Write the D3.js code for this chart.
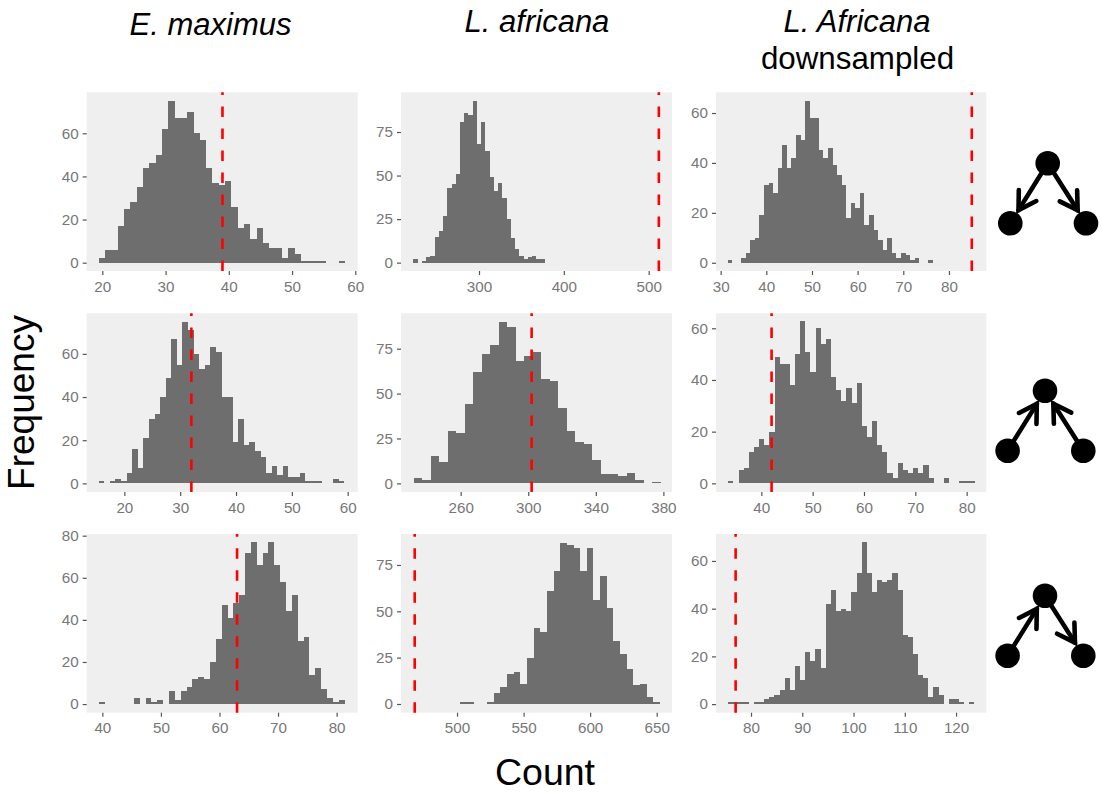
<!DOCTYPE html>
<html>
<head>
<meta charset="utf-8">
<script src="https://cdn.jsdelivr.net/npm/d3@7/dist/d3.min.js"></script>
<style>
html,body{margin:0;padding:0;background:#fff;}
svg{display:block;}
text{font-family:"Liberation Sans",Arial,sans-serif;}
</style>
</head>
<body>
<svg id="chart" width="1102" height="792"></svg>
<script>
// ---- data ----
const countsEmaxDiverging = [2,6,6,17,25,28,35,44,46,50,62,75,67,67,70,60,57,44,37,36,38,26,16,18,11,16,9,7,7,2,7,4,1,1,1,1,0,0,1];
const countsLafrDiverging = [2,0,1,3,4,15,18,27,43,45,51,81,86,85,93,68,81,64,49,41,46,37,25,14,8,4,2,3,4,2,2];
const countsDownDiverging = [1,0,0,2,4,9,10,19,31,32,28,38,47,38,42,51,49,65,58,58,45,42,46,39,35,31,18,24,22,28,15,19,13,9,5,10,4,2,4,3,1,2,0,0,1];
const countsEmaxConverging = [1,0,1,2,1,5,16,7,21,30,32,40,49,67,55,75,71,60,53,55,63,61,40,40,19,30,18,19,15,12,5,8,4,8,3,3,5,1,1,1,0,0,2,1];
const countsLafrConverging = [3,2,15,12,29,28,44,62,72,77,90,87,68,71,73,58,57,42,29,23,22,13,5,5,4,6,2,0,1];
const countsDownConverging = [1,0,5,6,12,14,17,15,20,49,46,46,38,50,63,51,43,60,54,56,41,36,32,37,31,39,22,18,24,15,12,4,2,8,5,4,6,4,7,2,0,0,2,0,0,1,1,1];
const countsEmaxChain = [1,0,0,0,0,0,3,0,3,1,2,0,6,2,6,8,12,13,12,20,31,47,41,48,52,72,77,66,72,77,66,58,44,52,30,32,14,17,7,3,1,2];
const countsLafrChain = [1,1,0,0,1,6,9,16,17,11,25,41,39,61,72,87,86,84,72,84,56,69,52,34,27,19,10,11,4,1];
const countsDownChain = [1,1,1,1,0,1,1,2,3,4,6,11,6,16,10,22,18,23,15,42,48,39,40,39,47,55,68,55,47,52,51,52,55,48,29,28,21,12,11,3,7,4,0,2,2,1,0,1];

const columnTitles = ["E. maximus", "L. africana", "L. Africana"];
const columnSubtitle = "downsampled";
const xTitle = "Count";
const yTitle = "Frequency";

const binStarts = [19.42, 222.6, 31.5, 15.4, 232.17, 33.57, 39.37, 502.5, 75.58];
const binWidths = [1, 5, 1, 1, 5.04, 1, 1, 5, 1];
const observed = [39, 512, 85, 32, 302, 42, 63, 468.2, 77];

const xTicks = [
  [20,30,40,50,60],[300,400,500],[30,40,50,60,70,80],
  [20,30,40,50,60],[260,300,340,380],[40,50,60,70,80],
  [40,50,60,70,80],[500,550,600,650],[80,90,100,110,120]
];
const yTicks = [
  [0,20,40,60],[0,25,50,75],[0,20,40,60],
  [0,20,40,60],[0,25,50,75],[0,20,40,60],
  [0,20,40,60,80],[0,25,50,75],[0,20,40,60]
];
const xLimits = [[17.53,60.38],[208.05,527.5],[28.98,88.18],[13.25,61.8],[224.67,385.1],[31.17,83.83],[37.33,83.6],[457.9,661.5],[73.17,125.9]];
const yLimits = [[-3.85,79],[-4.8,97.8],[-3.3,68.3],[-4,78.8],[-4.8,94.7],[-3.35,65.8],[-4.1,80.8],[-4.7,91.7],[-3.6,71.3]];
const allCounts = [countsEmaxDiverging,countsLafrDiverging,countsDownDiverging,countsEmaxConverging,countsLafrConverging,countsDownConverging,countsEmaxChain,countsLafrChain,countsDownChain];

// motif edges per row: [from, to], nodes 0 = top, 1 = left, 2 = right
const motifEdges = [[[0,1],[0,2]],[[1,0],[2,0]],[[1,0],[0,2]]];

// ---- layout ----
const colBands = [[86.7,357.7],[401,672],[716,986.3]];
const rowBands = [[92.3,271],[313.3,492],[534,712.7]];
const motifOrigins = [[1047.7,163.3],[1045,390.7],[1045,595.7]];
const BAR = "#6e6e6e", PANEL = "#efefef", TICK = "#555555", LABEL = "#777777";

const svg = d3.select("#chart");

allCounts.forEach((counts, i) => {
  const col = i % 3, row = Math.floor(i / 3);
  const x = d3.scaleLinear().domain(xLimits[i]).range(colBands[col]);
  const y = d3.scaleLinear().domain(yLimits[i]).range([rowBands[row][1], rowBands[row][0]]);
  const g = svg.append("g");

  g.append("rect")
    .attr("x", colBands[col][0]).attr("y", rowBands[row][0])
    .attr("width", colBands[col][1]-colBands[col][0])
    .attr("height", rowBands[row][1]-rowBands[row][0])
    .attr("fill", PANEL);

  g.append("g").selectAll("rect")
    .data(counts.map((c, k) => ({c, x0: binStarts[i]+k*binWidths[i], x1: binStarts[i]+(k+1)*binWidths[i]})).filter(d => d.c > 0))
    .join("rect")
    .attr("x", d => x(d.x0))
    .attr("width", d => x(d.x1)-x(d.x0))
    .attr("y", d => y(d.c))
    .attr("height", d => y(0)-y(d.c))
    .attr("fill", BAR)
    .attr("shape-rendering", "crispEdges");

  g.append("line")
    .attr("x1", x(observed[i])).attr("x2", x(observed[i]))
    .attr("y1", rowBands[row][1]).attr("y2", rowBands[row][0])
    .attr("stroke", "#ff0000").attr("stroke-width", 2.6)
    .attr("stroke-dasharray", "10.5,11.5");

  const ax = g.append("g").attr("transform", `translate(0,${rowBands[row][1]})`)
    .call(d3.axisBottom(x).tickValues(xTicks[i]).tickSize(4).tickPadding(6).tickFormat(d3.format("d")));
  const ay = g.append("g").attr("transform", `translate(${colBands[col][0]},0)`)
    .call(d3.axisLeft(y).tickValues(yTicks[i]).tickSize(4).tickPadding(4).tickFormat(d3.format("d")));
  [ax, ay].forEach(a => {
    a.select(".domain").remove();
    a.selectAll(".tick line").attr("stroke", TICK).attr("stroke-width", 1.2);
    a.selectAll(".tick text").attr("fill", LABEL).style("font-size", "15.2px");
  });
});

// column titles
const titleY = [35, 32, 32];
columnTitles.forEach((t, c) => {
  svg.append("text").text(t)
    .attr("x", [210.5, 537, 857][c]).attr("y", titleY[c])
    .attr("text-anchor", "middle").attr("font-style", "italic")
    .attr("font-size", 31).attr("fill", "#000");
});
svg.append("text").text(columnSubtitle)
  .attr("x", 857.5).attr("y", 69).attr("text-anchor", "middle")
  .attr("font-size", 31.3).attr("fill", "#000");

svg.append("text").text(xTitle)
  .attr("x", 545).attr("y", 785).attr("text-anchor", "middle")
  .attr("font-size", 37.5).attr("fill", "#000");
svg.append("text").text(yTitle)
  .attr("transform", "translate(34,402.5) rotate(-90)").attr("text-anchor", "middle")
  .attr("font-size", 37).attr("fill", "#000");

// motifs
const nodeOffsets = [[0,0],[-37.4,60],[38.3,60]];
const R = 12.3, TIP = 15.5, ARM = 20, ANG = 31 * Math.PI / 180;
const link = d3.line();
motifEdges.forEach((edges, r) => {
  const [ox, oy] = motifOrigins[r];
  const pts = nodeOffsets.map(([dx, dy]) => [ox+dx, oy+dy]);
  const g = svg.append("g");
  edges.forEach(([a, b]) => {
    const [x0, y0] = pts[a], [x1, y1] = pts[b];
    const th = Math.atan2(y0-y1, x0-x1);
    const tip = [x1+TIP*Math.cos(th), y1+TIP*Math.sin(th)];
    const arm = s => [tip[0]+ARM*Math.cos(th+s*ANG), tip[1]+ARM*Math.sin(th+s*ANG)];
    const style = p => p.attr("fill","none").attr("stroke","#000").attr("stroke-width",4.6).attr("stroke-linejoin","miter").attr("stroke-linecap","round");
    g.append("path").attr("d", link([[x0,y0],tip])).call(style);
    g.append("path").attr("d", link([arm(1),tip,arm(-1)])).call(style);
  });
  g.selectAll("circle").data(pts).join("circle")
    .attr("cx", d => d[0]).attr("cy", d => d[1]).attr("r", R).attr("fill", "#000");
});
</script>
</body>
</html>
